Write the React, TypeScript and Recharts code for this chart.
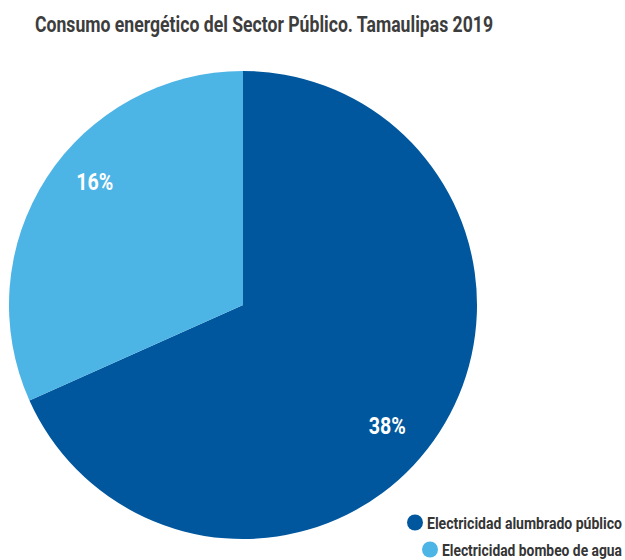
import React from "react";
import { PieChart, Pie, Cell, Legend } from "recharts";

const title = "Consumo energético del Sector Público. Tamaulipas 2019";
const categories = ["Electricidad alumbrado público", "Electricidad bombeo de agua"];
const shares = [68.3, 31.7];
const labelTexts = ["38%", "16%"];
const colors = ["#00579E", "#4DB4E6"];

const data = categories.map((name, i) => ({ name, value: shares[i], label: labelTexts[i] }));

const FONT = 'Roboto, "DejaVu Sans", sans-serif';
const RAD = Math.PI / 180;
const LABEL_ANGLE_SHIFT = -7;

const renderLabel = (props: any) => {
  const { cx, cy, midAngle, outerRadius, index } = props;
  const r = outerRadius * 0.815;
  const a = (midAngle + LABEL_ANGLE_SHIFT) * RAD;
  const x = cx + r * Math.cos(-a);
  const y = cy + r * Math.sin(-a);
  return (
    <text
      x={x - 2}
      y={y + 7}
      fill="#ffffff"
      textAnchor="middle"
      fontFamily={FONT}
      fontWeight="bold"
      fontSize={24}
      textLength={37}
      lengthAdjust="spacingAndGlyphs"
    >
      {data[index].label}
    </text>
  );
};

const legendWidths = [195, 180];

const renderLegend = () => (
  <svg width={220} height={50} style={{ display: "block", overflow: "visible" }}>
    {data.map((d, i) => {
      const right = 217;
      const w = legendWidths[i];
      const baseline = 18.5 + i * 27;
      return (
        <g key={d.name}>
          <circle cx={right - w - 12} cy={baseline - 6} r={8} fill={colors[i]} />
          <g transform={`translate(${right - w}, ${baseline}) scale(1, 1.2)`}>
            <text
              x={0}
              y={0}
              fontFamily={FONT}
              fontWeight="bold"
              fontSize={14}
              fill="#353535"
              textLength={w}
              lengthAdjust="spacingAndGlyphs"
            >
              {d.name}
            </text>
          </g>
        </g>
      );
    })}
  </svg>
);

export default function App() {
  return (
    <div style={{ position: "absolute", left: 0, top: 0, width: 625, height: 560, background: "#fff", overflow: "hidden" }}>
      <svg width={625} height={50} style={{ position: "absolute", left: 0, top: 0 }}>
        <text
          x={35}
          y={31.5}
          fontFamily={FONT}
          fontWeight="bold"
          fontSize={22}
          fill="#3d3d3d"
          textLength={458}
          lengthAdjust="spacingAndGlyphs"
        >
          {title}
        </text>
      </svg>
      <div style={{ position: "absolute", left: 0, top: 0 }}>
        <PieChart width={625} height={560} margin={{ top: 0, right: 0, bottom: 0, left: 0 }}>
          <Pie
            data={data}
            dataKey="value"
            nameKey="name"
            cx={243}
            cy={305}
            outerRadius={234}
            startAngle={90}
            endAngle={-270}
            stroke="none"
            label={renderLabel}
            labelLine={false}
            isAnimationActive={false}
          >
            {data.map((d, i) => (
              <Cell key={d.name} fill={colors[i]} />
            ))}
          </Pie>
          <Legend
            content={renderLegend}
            layout="vertical"
            align="right"
            verticalAlign="top"
            wrapperStyle={{ left: 405, top: 510, width: 220, height: 50 }}
          />
        </PieChart>
      </div>
    </div>
  );
}
